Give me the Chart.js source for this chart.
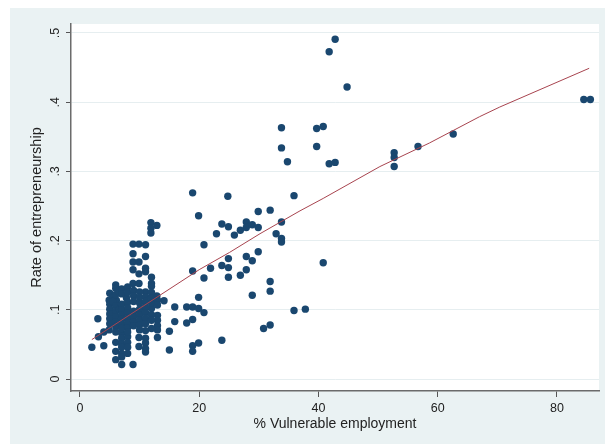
<!DOCTYPE html>
<html>
<head>
<meta charset="utf-8">
<script src="https://cdn.jsdelivr.net/npm/chart.js@4.4.1/dist/chart.umd.min.js"></script>
<style>
  html, body { margin: 0; padding: 0; background: #ffffff; }
  #wrap { width: 605px; height: 444px; position: relative; }
</style>
</head>
<body>
<div id="wrap"><canvas id="c" width="605" height="444"></canvas></div>
<script>
// Axis ticks
const xTicks = [0, 20, 40, 60, 80];
const yTicks = [0, 0.1, 0.2, 0.3, 0.4, 0.5];
const yTickLabels = ['0', '.1', '.2', '.3', '.4', '.5'];

// Observations: [% vulnerable employment, rate of entrepreneurship]
const highObs = [
  [42.8, 0.491], [41.8, 0.473], [44.8, 0.422], [84.5, 0.404], [85.6, 0.404],
  [33.8, 0.363], [39.7, 0.362], [40.8, 0.365], [33.8, 0.334], [39.7, 0.336],
  [34.8, 0.314], [41.8, 0.311], [42.8, 0.313], [52.7, 0.327], [52.7, 0.320],
  [52.7, 0.307], [56.7, 0.336], [62.6, 0.354], [35.9, 0.265], [33.8, 0.227],
  [33.8, 0.203], [33.8, 0.198], [40.8, 0.168], [35.9, 0.099], [37.8, 0.101]
];
const midObs = [
  [18.9, 0.269], [24.8, 0.264], [19.9, 0.236], [29.9, 0.242], [31.9, 0.244],
  [23.8, 0.224], [24.9, 0.220], [27.9, 0.227], [27.9, 0.219], [26.9, 0.215],
  [28.9, 0.223], [29.9, 0.219], [25.9, 0.208], [22.9, 0.210], [32.9, 0.210],
  [20.8, 0.194], [29.9, 0.184], [27.9, 0.177], [28.9, 0.171], [24.9, 0.174],
  [23.8, 0.164], [24.9, 0.161], [21.9, 0.160], [18.9, 0.156], [27.9, 0.158],
  [26.9, 0.150], [24.9, 0.147], [20.8, 0.146], [31.9, 0.141], [31.9, 0.127],
  [28.9, 0.121], [19.9, 0.118], [14.1, 0.113], [15.9, 0.104], [17.9, 0.104],
  [18.9, 0.104], [19.9, 0.102], [20.8, 0.096], [15.9, 0.083], [17.9, 0.081],
  [18.9, 0.086], [15.0, 0.069], [31.9, 0.078], [30.8, 0.073], [23.8, 0.056],
  [19.9, 0.052], [18.9, 0.048], [18.9, 0.040], [15.0, 0.042]
];
const lowObs = [
  [11.9, 0.226], [11.9, 0.218], [11.9, 0.211], [12.9, 0.222],
  [8.9, 0.195], [9.9, 0.195], [11.0, 0.194], [8.9, 0.181], [11.0, 0.177],
  [8.9, 0.169], [9.9, 0.169], [8.9, 0.158], [11.0, 0.160], [11.0, 0.155],
  [9.9, 0.152], [12.0, 0.147], [8.9, 0.138], [9.9, 0.138], [12.0, 0.138],
  [12.0, 0.134], [11.0, 0.126], [6.0, 0.136], [6.0, 0.131], [4.9, 0.114],
  [6.1, 0.114], [7.8, 0.117], [13.0, 0.092], [13.0, 0.085], [13.0, 0.077],
  [13.0, 0.060], [13.0, 0.071], [12.0, 0.073], [11.0, 0.070], [12.0, 0.102],
  [12.9, 0.120], [3.0, 0.087], [2.0, 0.046], [4.0, 0.048], [3.1, 0.061],
  [4.0, 0.068], [4.9, 0.071], [6.0, 0.053], [6.0, 0.040], [6.0, 0.028],
  [7.0, 0.021], [8.9, 0.021], [7.0, 0.037], [7.0, 0.032], [7.0, 0.066],
  [7.0, 0.059], [7.0, 0.051], [7.0, 0.046], [8.0, 0.061], [8.0, 0.053],
  [8.0, 0.046], [8.0, 0.037], [9.9, 0.060], [9.9, 0.047], [11.0, 0.059],
  [11.0, 0.052], [11.0, 0.044], [11.0, 0.039]
];
const coreObs = [
  [5.0, 0.124], [5.0, 0.108], [5.0, 0.101], [5.0, 0.094], [5.0, 0.087], [5.0, 0.080],
  [5.5, 0.118], [5.5, 0.112],
  [6.0, 0.122], [6.0, 0.106], [6.0, 0.098], [6.0, 0.090], [6.0, 0.083], [6.0, 0.076], [6.0, 0.068],
  [6.5, 0.127], [6.6, 0.101],
  [7.0, 0.130], [7.0, 0.123], [7.0, 0.108], [7.0, 0.100], [7.0, 0.093], [7.0, 0.086], [7.0, 0.079], [7.0, 0.073],
  [8.0, 0.133], [8.0, 0.125], [8.0, 0.111], [8.0, 0.103], [8.0, 0.096], [8.0, 0.088], [8.0, 0.081], [8.0, 0.074], [8.0, 0.068],
  [9.0, 0.128], [9.0, 0.120], [9.0, 0.112], [9.0, 0.098], [9.0, 0.090], [9.0, 0.083], [9.0, 0.077],
  [10.0, 0.126], [10.0, 0.118], [10.0, 0.110], [10.0, 0.101], [10.0, 0.093], [10.0, 0.085], [10.0, 0.078], [10.0, 0.071],
  [11.0, 0.119], [11.0, 0.112], [11.0, 0.104], [11.0, 0.096], [11.0, 0.088], [11.0, 0.080],
  [12.0, 0.125], [12.0, 0.117], [12.0, 0.110], [12.0, 0.093], [12.0, 0.085],
  [13.0, 0.114], [13.0, 0.107]
];

// Smoothed fit
const fitX = [2.0, 8.4, 13.4, 20.0, 25.1, 30.2, 36.9, 40.8, 50.3, 58.6, 67.0, 70.4, 85.4];
const fitY = [0.057, 0.093, 0.121, 0.158, 0.183, 0.210, 0.243, 0.261, 0.307, 0.341, 0.379, 0.393, 0.449];

const toPoints = arr => arr.map(([x, y]) => ({ x, y }));
const scatterData = toPoints([...highObs, ...midObs, ...lowObs, ...coreObs]);
const fitData = fitX.map((x, i) => ({ x, y: fitY[i] }));

const FONT = "'Liberation Sans', Arial, Helvetica, sans-serif";

// Outer panel and white plot region
const panel = {
  id: 'panel',
  beforeDraw(chart) {
    const { ctx, chartArea: a } = chart;
    ctx.save();
    ctx.fillStyle = '#ffffff';
    ctx.fillRect(0, 0, 605, 444);
    ctx.fillStyle = '#eaf2f3';
    ctx.fillRect(10, 8, 595, 436);
    ctx.fillStyle = '#ffffff';
    ctx.fillRect(a.left, a.top, a.right - a.left, a.bottom - a.top);
    ctx.restore();
  }
};

new Chart(document.getElementById('c'), {
  data: {
    datasets: [
      {
        type: 'line',
        data: fitData,
        borderColor: '#a8444f',
        borderWidth: 1,
        pointRadius: 0,
        tension: 0,
        fill: false
      },
      {
        type: 'scatter',
        data: scatterData,
        pointRadius: 3.7,
        pointHoverRadius: 3.7,
        backgroundColor: '#1a476f',
        borderWidth: 0
      }
    ]
  },
  options: {
    responsive: false,
    animation: false,
    devicePixelRatio: 1,
    layout: { padding: { left: 0, top: 24, right: 6, bottom: 0 } },
    plugins: { legend: { display: false }, tooltip: { enabled: false } },
    scales: {
      x: {
        type: 'linear',
        min: -1.5,
        max: 87.05,
        afterBuildTicks: s => { s.ticks = xTicks.map(v => ({ value: v })); },
        afterFit: s => { s.height = 53; },
        grid: { drawOnChartArea: false, drawTicks: true, tickLength: 6, tickColor: '#555555', tickWidth: 1 },
        border: { display: true, color: '#6b6b6b', width: 1.5 },
        ticks: { padding: 4, color: '#222222', maxRotation: 0, font: { family: FONT, size: 12.5 } },
        title: {
          display: true,
          text: '% Vulnerable employment',
          color: '#222222',
          font: { family: FONT, size: 14 },
          padding: { top: 0, bottom: 11.6 }
        }
      },
      y: {
        type: 'linear',
        min: -0.0173,
        max: 0.513,
        afterBuildTicks: s => { s.ticks = yTicks.map(v => ({ value: v })); },
        afterFit: s => { s.width = 71; },
        grid: { color: '#e6eef0', lineWidth: 1, drawTicks: true, tickLength: 5, tickColor: '#555555', tickWidth: 1 },
        border: { display: true, color: '#6b6b6b', width: 1.5 },
        ticks: {
          minRotation: 90,
          maxRotation: 90,
          crossAlign: 'center',
          padding: 5,
          color: '#222222',
          font: { family: FONT, size: 12.5 },
          callback: (v, i) => yTickLabels[i]
        },
        title: {
          display: true,
          text: 'Rate of entrepreneurship',
          color: '#222222',
          font: { family: FONT, size: 14.5 },
          padding: { top: 28.6, bottom: 0 }
        }
      }
    }
  },
  plugins: [panel]
});
</script>
</body>
</html>
